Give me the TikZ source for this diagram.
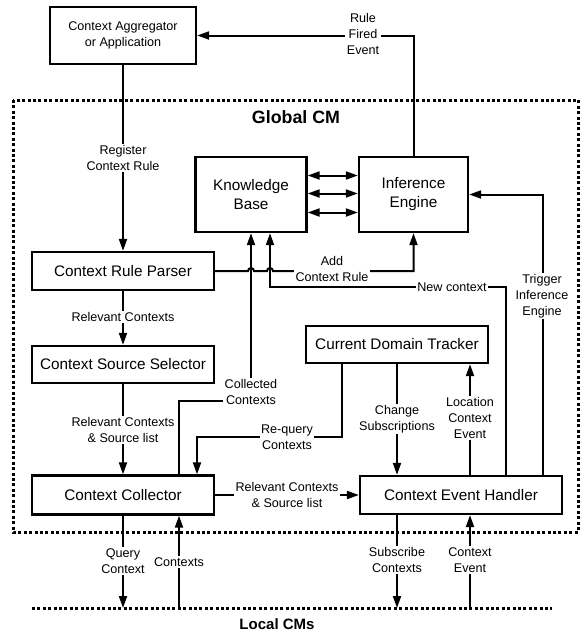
\documentclass[tikz,border=0pt]{standalone}
\usepackage{fontspec}
\setmainfont{Liberation Sans}
\usetikzlibrary{arrows.meta, positioning, calc}

\newcommand{\boxfont}{\fontsize{15.3}{19}\selectfont}
\newcommand{\lblfont}{\fontsize{12.6}{16}\selectfont}

\tikzset{
  blk/.style={draw, line width=2.3pt, inner sep=0pt, font=\boxfont, align=center},
  lbl/.style={fill=white, inner sep=1.5pt, font=\lblfont, align=center},
  arr/.style={line width=2pt, -{Triangle[length=12pt,width=8pt]}},
  dblarr/.style={line width=2pt, {Triangle[length=12pt,width=8pt]}-{Triangle[length=12pt,width=8pt]}},
  dots/.style={line width=3pt, dash pattern=on 3pt off 2.4pt}
}

\begin{document}
\begin{tikzpicture}[x=1pt, y=-1pt]
\useasboundingbox (0,0) rectangle (585,633);

% Global CM boundary
\draw[dots] (13,100) rectangle (578,532);
\node[font={\bfseries\fontsize{17.8}{20}\selectfont}] (global) at (296,117) {Global CM};

% Local CMs boundary
\coordinate (local) at (0,608);
\draw[dots] (32,608) -- (552,608);
\node[font={\bfseries\fontsize{15}{18}\selectfont}, inner sep=1pt] (localcm) at (277,624) {Local CMs};

% Boxes
\node[blk, font=\lblfont, minimum width=146pt, minimum height=57pt] (agg) at (123,35.5) {Context Aggregator\\or Application};
\node[blk, minimum width=111pt, minimum height=75pt] (kb) at (251,194.5) {Knowledge\\Base};
\node[blk, minimum width=109pt, minimum height=75pt] (ie) at (413.5,194.5) {Inference\\Engine};
\node[blk, minimum width=182pt, minimum height=38pt] (parser) at (123,271) {Context Rule Parser};
\node[blk, minimum width=182pt, minimum height=37pt] (selector) at (123,364.5) {Context Source Selector};
\node[blk, minimum width=182pt, minimum height=39pt] (collector) at (123,495) {Context Collector};
\node[blk, minimum width=182pt, minimum height=37pt] (tracker) at (397,344.5) {Current Domain Tracker};
\node[blk, minimum width=202pt, minimum height=38pt] (handler) at (461,495) {Context Event Handler};

% Knowledge base <-> inference engine
\foreach \dy in {19,1,-18}
  \draw[dblarr] ([yshift=\dy pt]kb.east) -- ([yshift=\dy pt]ie.west);

% Rule fired event
\draw[arr] (ie.north) |- (agg.east);
\node[lbl] (fired) at (363,34) {Rule\\Fired\\Event};

% Register context rule
\draw[arr] (agg.south) -- (parser.north);
\node[lbl] (register) at (123,158) {Register\\Context Rule};

% Add context rule (jumps over the two lines)
\draw[arr] (parser.east) -- (248,271) arc[start angle=180, end angle=0, radius=3pt]
  -- (267,271) arc[start angle=180, end angle=0, radius=3pt]
  -- (ie.south |- parser.east) -- (ie.south);
\node[lbl] (addrule) at (332,269) {Add\\Context Rule};

% Collected contexts
\draw[arr] ([xshift=56pt]collector.north) |- (251,401) -- (kb.south);
\node[lbl] (collected) at (251,392) {Collected\\Contexts};

% New context
\draw[arr] ([xshift=45pt]handler.north) |- (270,287) -- ([xshift=19pt]kb.south);
\node[lbl] (newctx) at (452,287) {New context};

% Trigger inference engine
\draw[arr] ([xshift=82pt]handler.north) |- (ie.east);
\node[lbl] (trigger) at (542,296) {Trigger\\Inference\\Engine};

% Location context event
\coordinate (loc) at ([xshift=9pt]handler.north);
\draw[arr] (loc) -- (loc |- tracker.south);
\node[lbl] (location) at (470,418) {Location\\Context\\Event};

% Change subscriptions
\draw[arr] (tracker.south) -- (tracker.south |- handler.north);
\node[lbl] (change) at (397,419) {Change\\Subscriptions};

% Re-query contexts
\draw[arr] ([xshift=-55pt]tracker.south) |- (197,437) -- ([xshift=74pt]collector.north);
\node[lbl] (requery) at (287,437) {Re-query\\Contexts};

% Collector -> event handler
\draw[arr] (collector.east) -- (handler.west);
\node[lbl] (relsrc2) at (287,495) {Relevant Contexts\\\& Source list};

% Parser -> selector -> collector
\draw[arr] (parser.south) -- (selector.north);
\node[lbl] (relevant) at (123,317) {Relevant Contexts};
\draw[arr] (selector.south) -- (collector.north);
\node[lbl] (relsrc) at (123,430) {Relevant Contexts\\\& Source list};

% Links to local CMs
\draw[arr] (collector.south) -- (collector.south |- local);
\node[lbl] (query) at (123,561) {Query\\Context};
\coordinate (ctx) at ([xshift=56pt]collector.south);
\draw[arr] (ctx |- local) -- (ctx);
\node[lbl] (contexts) at (179,562) {Contexts};
\coordinate (sub) at ([xshift=-64pt]handler.south);
\draw[arr] (sub) -- (sub |- local);
\node[lbl] (subscribe) at (397,560) {Subscribe\\Contexts};
\coordinate (cev) at ([xshift=9pt]handler.south);
\draw[arr] (cev |- local) -- (cev);
\node[lbl] (ctxevent) at (470,560) {Context\\Event};
\end{tikzpicture}
\end{document}
